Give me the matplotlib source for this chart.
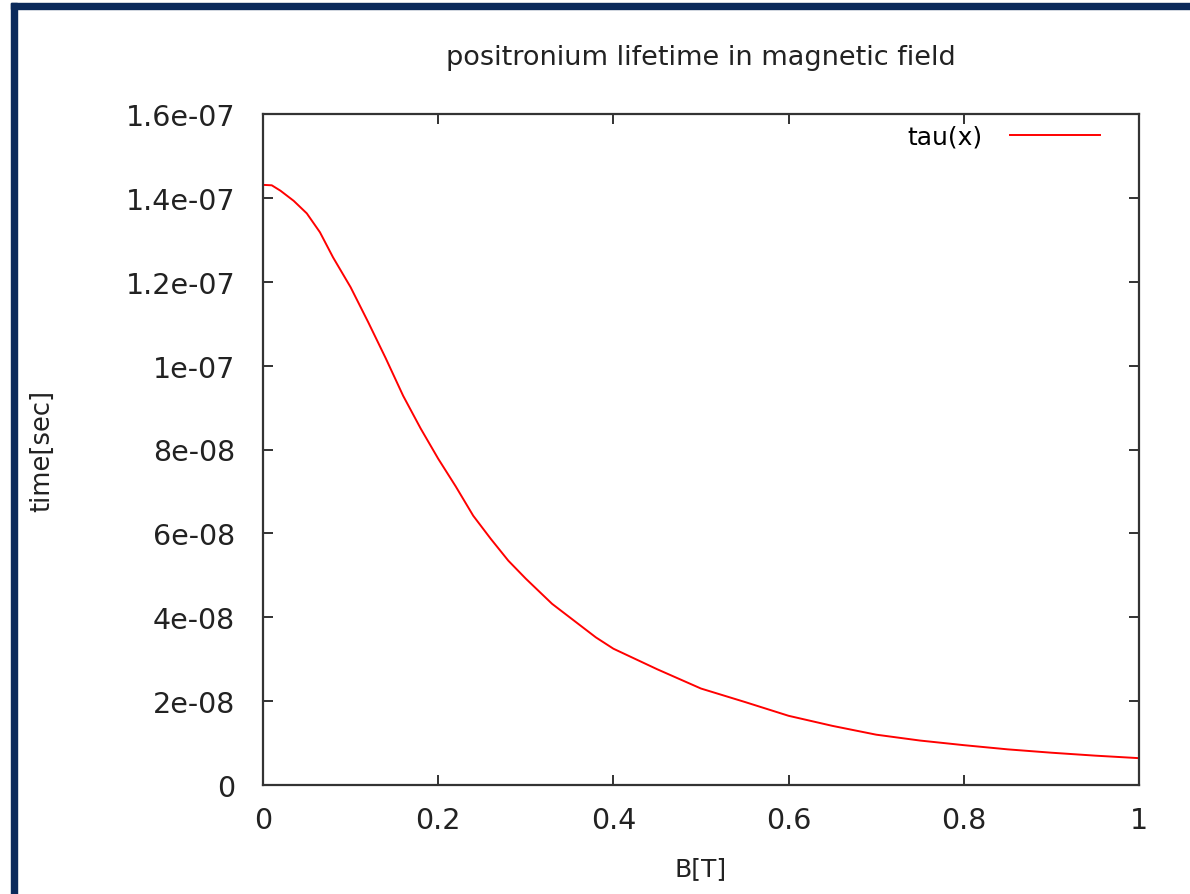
import matplotlib
matplotlib.use("Agg")
import matplotlib.pyplot as plt
from matplotlib.patches import Rectangle

# field B [T] and lifetime tau [1e-8 s]
b_field = [0, 0.01, 0.02, 0.035, 0.05, 0.065, 0.08, 0.1, 0.12, 0.14, 0.16, 0.18,
           0.2, 0.22, 0.24, 0.26, 0.28, 0.3, 0.33, 0.36, 0.38, 0.4, 0.45, 0.5, 0.55,
           0.6, 0.65, 0.7, 0.75, 0.8, 0.85, 0.9, 0.95, 1.0]
tau_e8 = [14.31, 14.30, 14.17, 13.93, 13.63, 13.18, 12.58, 11.87, 11.04, 10.18, 9.28, 8.50,
          7.78, 7.12, 6.42, 5.87, 5.35, 4.92, 4.32, 3.84, 3.52, 3.25, 2.76, 2.30, 1.98,
          1.65, 1.41, 1.20, 1.06, 0.95, 0.85, 0.77, 0.70, 0.64]
tau = [v * 1e-8 for v in tau_e8]

x_ticks = [0, 0.2, 0.4, 0.6, 0.8, 1.0]
x_labels = ["0", "0.2", "0.4", "0.6", "0.8", "1"]
y_ticks = [0, 2e-8, 4e-8, 6e-8, 8e-8, 1e-7, 1.2e-7, 1.4e-7, 1.6e-7]
y_labels = ["0", "2e-08", "4e-08", "6e-08", "8e-08", "1e-07", "1.2e-07", "1.4e-07", "1.6e-07"]

fig = plt.figure(figsize=(11.9, 8.95), dpi=100)
ax = fig.add_axes([263/1190, 1 - 786/895, 876/1190, 671/895])

# navy frame from the screenshot
navy = "#0b2a5b"
fig.patches.append(Rectangle((11/1190, 1 - 10/895), 1, 6/895, transform=fig.transFigure,
                             color=navy, zorder=0))
fig.patches.append(Rectangle((11/1190, 0), 6/1190, 1 - 4/895, transform=fig.transFigure,
                             color=navy, zorder=0))

ax.plot(b_field, tau, color="red", lw=1.4, label="tau(x)")

ax.set_xlim(0, 1)
ax.set_ylim(0, 1.6e-7)
ax.set_xticks(x_ticks)
ax.set_xticklabels(x_labels)
ax.set_yticks(y_ticks)
ax.set_yticklabels(y_labels)
ax.tick_params(direction="in", length=7, width=1.3, color="#222222",
               top=True, right=True, labelsize=20.5, labelcolor="#222222")
ax.tick_params(axis="x", pad=15)
ax.tick_params(axis="y", pad=20)
for s in ax.spines.values():
    s.set_linewidth(1.6)
    s.set_color("#333333")

ax.set_title("positronium lifetime in magnetic field", fontsize=19.5, pad=36, color="#222222")
ax.set_xlabel("B[T]", fontsize=18, labelpad=16, color="#222222")
ax.set_ylabel("time[sec]", fontsize=18.5, labelpad=51, color="#222222")

ax.legend(loc="upper right", bbox_to_anchor=(0.975, 1.01), frameon=False,
          markerfirst=False, fontsize=18, handlelength=3.6, handletextpad=1.1,
          borderaxespad=0.3)

fig.savefig("out.png", dpi=100)
